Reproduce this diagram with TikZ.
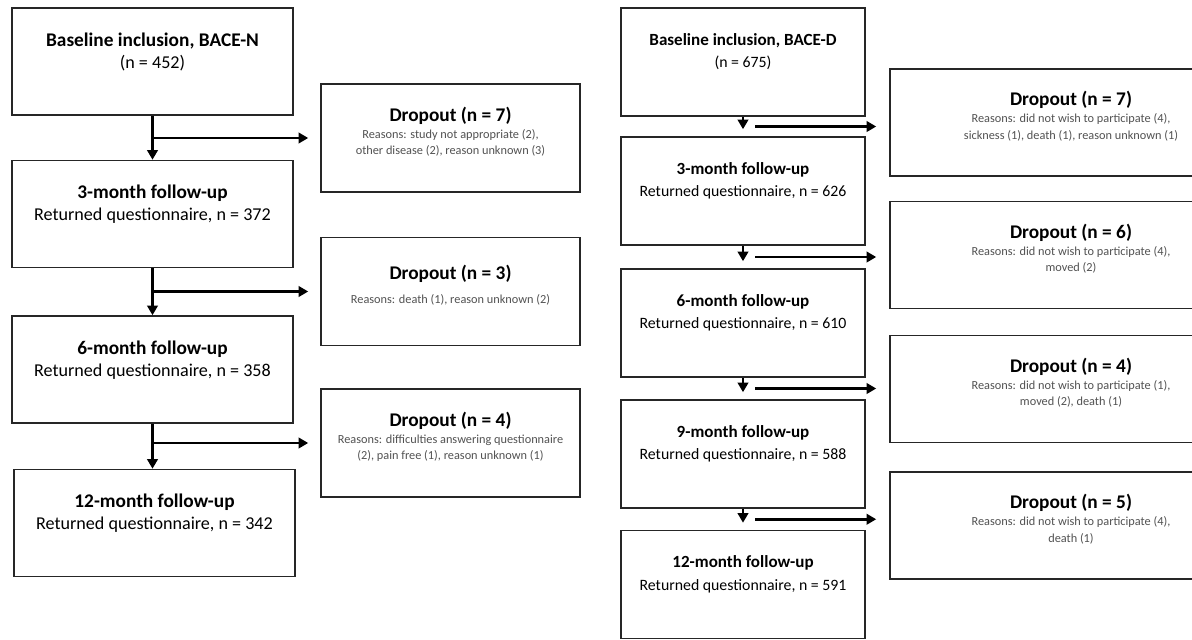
\documentclass[tikz,border=0pt]{standalone}
\usepackage{fontspec}
\setmainfont{Carlito}
\usepackage{tikz}
\usetikzlibrary{positioning,arrows.meta,calc}

\newcommand{\headpt}{11}
\newcommand{\boxhead}[1]{{\fontsize{\headpt}{12.5}\selectfont\bfseries #1}}
\newcommand{\reasons}[1]{{\color{black!68}\fontsize{7}{8.5}\selectfont #1}}

\begin{document}
\begin{tikzpicture}[
  font=\fontsize{10.3}{12.5}\selectfont,
  visit/.style={draw=black!85, line width=0.9pt, align=flush center, text width=5.3cm,
                minimum width=5.62cm, minimum height=2.14cm},
  visitD/.style={visit, font=\fontsize{9}{13}\selectfont\renewcommand{\headpt}{9.7},
                 inner xsep=1pt, text width=4.8cm, minimum width=4.88cm, minimum height=2.16cm},
  drop/.style={draw=black!85, line width=0.9pt, align=flush center, inner xsep=1pt,
               text width=5.05cm, minimum width=5.18cm, minimum height=2.16cm},
  dropD/.style={drop, text width=7cm, minimum width=7.24cm, minimum height=2.14cm},
  arr/.style={-{Triangle[length=5.5pt,width=6pt]}, line width=1.5pt},
]
\useasboundingbox[fill=white] (0,0) rectangle (23.84,-12.78);

% BACE-N
\node[visit] (nb)  at (3.05,-1.23)  {\boxhead{Baseline inclusion, BACE-N}\\(n = 452)\\\mbox{}};
\node[visit] (n3)  at (3.05,-4.28)  {\boxhead{3-month follow-up}\\Returned questionnaire, n = 372\\\mbox{}};
\node[visit] (n6)  at (3.05,-7.39)  {\boxhead{6-month follow-up}\\Returned questionnaire, n = 358\\\mbox{}};
\node[visit] (n12) at (3.09,-10.46) {\boxhead{12-month follow-up}\\Returned questionnaire, n = 342\\\mbox{}};

\node[drop] (nd1) at (9.01,-2.76) {\boxhead{Dropout (n = 7)}\\[1pt]\reasons{Reasons: study not appropriate (2),\\[-3pt]other disease (2), reason unknown (3)}\\[-4.5pt]\mbox{}};
\node[drop] (nd2) at (9.01,-5.83) {\boxhead{Dropout (n = 3)}\\[1pt]\reasons{Reasons: death (1), reason unknown (2)}\\[-4.5pt]\mbox{}};
\node[drop] (nd3) at (9.01,-8.86) {\boxhead{Dropout (n = 4)}\\[1pt]\reasons{Reasons: difficulties answering questionnaire\\[-3pt](2), pain free (1), reason unknown (1)}\\[-4.5pt]\mbox{}};

\draw[arr] (nb.south) -- (n3.north);
\draw[arr] (n3.south) -- (n6.north);
\draw[arr] (n6.south) -- (n6.south |- n12.north);
\draw[arr, shorten >=0.24cm] (nd1.west -| nb.south) -- (nd1.west);
\draw[arr, shorten >=0.24cm] (nd2.west -| n3.south) -- (nd2.west);
\draw[arr, shorten >=0.24cm] (nd3.west -| n6.south) -- (nd3.west);

% BACE-D
\node[visitD] (db)  at (14.86,-1.24)  {\boxhead{Baseline inclusion, BACE-D}\\(n = 675)\\\mbox{}};
\node[visitD] (d3)  at (14.86,-3.82)  {\boxhead{3-month follow-up}\\Returned questionnaire, n = 626\\\mbox{}};
\node[visitD] (d6)  at (14.86,-6.46)  {\boxhead{6-month follow-up}\\Returned questionnaire, n = 610\\\mbox{}};
\node[visitD] (d9)  at (14.86,-9.08)  {\boxhead{9-month follow-up}\\Returned questionnaire, n = 588\\\mbox{}};
\node[visitD] (d12) at (14.86,-11.69) {\boxhead{12-month follow-up}\\Returned questionnaire, n = 591\\\mbox{}};

\node[dropD] (dd1) at (21.42,-2.45)  {\boxhead{Dropout (n = 7)}\\[1pt]\reasons{Reasons: did not wish to participate (4),\\[-3pt]sickness (1), death (1), reason unknown (1)}\\[-4.5pt]\mbox{}};
\node[dropD] (dd2) at (21.42,-5.10)  {\boxhead{Dropout (n = 6)}\\[1pt]\reasons{Reasons: did not wish to participate (4),\\[-3pt]moved (2)}\\[-4.5pt]\mbox{}};
\node[dropD] (dd3) at (21.42,-7.78)  {\boxhead{Dropout (n = 4)}\\[1pt]\reasons{Reasons: did not wish to participate (1),\\[-3pt]moved (2), death (1)}\\[-4.5pt]\mbox{}};
\node[dropD] (dd4) at (21.42,-10.51) {\boxhead{Dropout (n = 5)}\\[1pt]\reasons{Reasons: did not wish to participate (4),\\[-3pt]death (1)}\\[-4.5pt]\mbox{}};

\draw[arr, shorten >=0.14cm] (db.south) -- (d3.north);
\draw[arr, shorten >=0.14cm] (d3.south) -- (d6.north);
\draw[arr, shorten >=0.14cm] (d6.south) -- (d9.north);
\draw[arr, shorten >=0.14cm] (d9.south) -- (d12.north);

\coordinate (t1) at ($(db.south)!0.5!(d3.north)+(0.24,0)$);
\coordinate (t2) at ($(d3.south)!0.5!(d6.north)+(0.24,0)$);
\coordinate (t3) at ($(d6.south)!0.5!(d9.north)+(0.24,0)$);
\coordinate (t4) at ($(d9.south)!0.5!(d12.north)+(0.24,0)$);
\draw[arr, shorten >=0.26cm] (t1) -- (t1 -| dd1.west);
\draw[arr, shorten >=0.26cm] (t2) -- (t2 -| dd2.west);
\draw[arr, shorten >=0.26cm] (t3) -- (t3 -| dd3.west);
\draw[arr, shorten >=0.26cm] (t4) -- (t4 -| dd4.west);
\end{tikzpicture}
\end{document}
